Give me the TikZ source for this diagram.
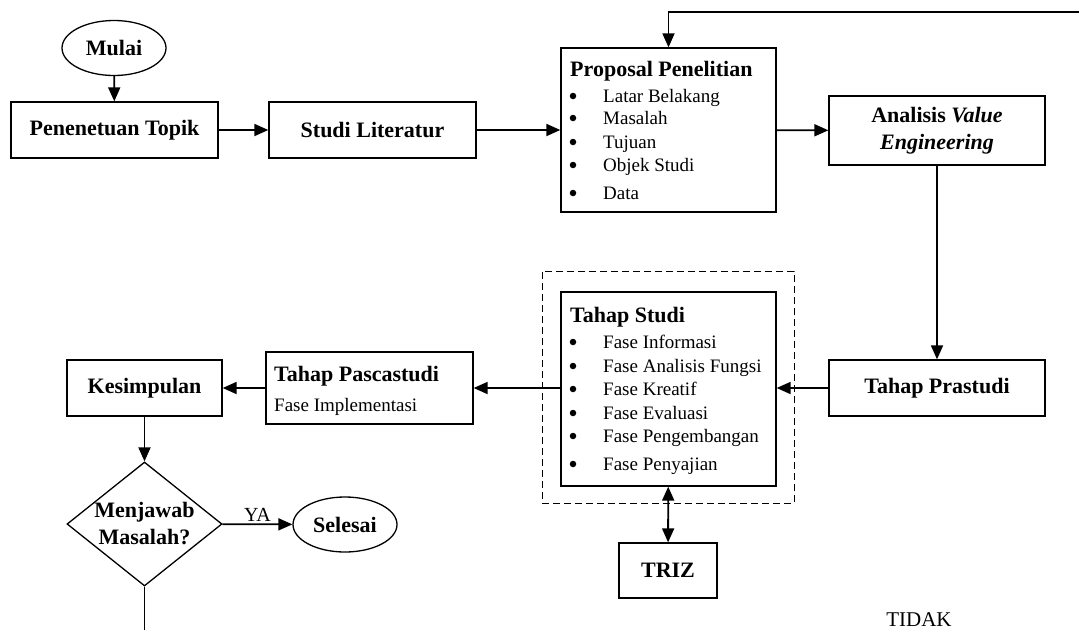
\documentclass[tikz,border=0pt]{standalone}
\usepackage{fontspec}
\setmainfont{Liberation Serif}
\usetikzlibrary{shapes.geometric,arrows.meta}

\begin{document}
\begin{tikzpicture}[x=1pt,y=-1pt,
  box/.style={draw, rectangle, inner sep=0pt, line width=1.3pt},
  bigtxt/.style={font=\fontsize{22}{27}\selectfont\bfseries},
  smalltxt/.style={font=\fontsize{19}{23}\selectfont, inner sep=0pt, anchor=base west},
  bul/.style={circle, fill, inner sep=0pt, minimum size=6.5pt},
  flow/.style={line width=1.8pt, -{Triangle[length=14pt,width=12pt]}},
]
\useasboundingbox (0,0) rectangle (1079,630);
\clip (0,0) rectangle (1079,630);

% ---- top row ----
\node[box, ellipse, minimum width=104pt, minimum height=55pt, bigtxt] (mulai) at (114,48) {Mulai};
\node[box, minimum width=207pt, minimum height=56pt, bigtxt] (topik) at (114.5,130) {Penenetuan Topik};
\node[box, minimum width=207pt, minimum height=56pt, bigtxt] (lit) at (372.5,130) {Studi Literatur};

\node[box, minimum width=215pt, minimum height=164pt] (prop) at (668.5,130) {};
\node[bigtxt, inner sep=0pt, anchor=base west] (propT) at (570,76) {Proposal Penelitian};
\foreach \t [count=\i] / \yy in {Latar Belakang/102, Masalah/124, Tujuan/148, Objek Studi/171, Data/199} {
  \node[bul] (propB\i) at (573,\yy-6) {};
  \node[smalltxt] (propI\i) at (603,\yy) {\t};
}

\node[box, minimum width=216pt, minimum height=69pt, bigtxt, align=center] (ve) at (937,130.5)
  {Analisis \textit{Value}\\\textit{Engineering}};

% ---- middle row ----
\node[box, minimum width=216pt, minimum height=56pt, bigtxt] (pra) at (937,388) {Tahap Prastudi};

\node[draw, dash pattern=on 7pt off 4pt, line width=1pt, inner sep=0pt,
      minimum width=252pt, minimum height=232pt] (grp) at (668,387) {};
\node[box, minimum width=215pt, minimum height=194pt] (studi) at (668.5,389) {};
\node[bigtxt, inner sep=0pt, anchor=base west] (studiT) at (570,322) {Tahap Studi};
\foreach \t [count=\i] / \yy in {Fase Informasi/348, Fase Analisis Fungsi/372, Fase Kreatif/395,
    Fase Evaluasi/419, Fase Pengembangan/442, Fase Penyajian/470} {
  \node[bul] (studiB\i) at (573,\yy-6) {};
  \node[smalltxt] (studiI\i) at (603,\yy) {\t};
}

\node[box, minimum width=98pt, minimum height=55pt, bigtxt] (triz) at (668,570.5) {TRIZ};

\node[box, minimum width=207pt, minimum height=72pt] (pasca) at (369.5,388) {};
\node[bigtxt, inner sep=0pt, anchor=base west] (pascaT) at (274,381) {Tahap Pascastudi};
\node[smalltxt] (pascaI) at (274,411) {Fase Implementasi};

\node[box, minimum width=155pt, minimum height=56pt, bigtxt] (kes) at (144.5,388) {Kesimpulan};

% ---- decision ----
\node[box, diamond, minimum width=155pt, minimum height=124pt,
      label={[bigtxt, align=center]center:{Menjawab\\Masalah?}}] (dec) at (144.5,524) {};
\node[box, ellipse, minimum width=104pt, minimum height=55pt, bigtxt] (selesai) at (345,524.5) {Selesai};

\node[font=\fontsize{21}{25}\selectfont, inner sep=0pt, anchor=base] (tidak) at (919,626) {TIDAK};

% ---- connectors ----
\coordinate (loopR) at (1079,12);
\coordinate (downEnd) at (144.5,630);

\draw[flow] (mulai) -- (topik);
\draw[flow] (topik) -- (lit);
\draw[flow] (lit) -- (prop);
\draw[flow] (prop) -- (ve);
\draw[flow] (ve) -- (pra);
\draw[flow] (pra.west) -- (pra.west -| studi.east);
\draw[flow] (pasca.east -| studi.west) -- (pasca.east);
\draw[flow] (pasca) -- (kes);
\draw[flow] (kes) -- (dec);
\draw[flow] (dec) -- node[above, inner sep=2pt, font=\fontsize{20}{24}\selectfont] (ya) {YA} (selesai);
\draw[line width=1.8pt, {Triangle[length=14pt,width=12pt]}-{Triangle[length=14pt,width=12pt]}] (studi) -- (triz);
\draw[flow] (loopR) -| (prop.north);
\draw[line width=1.8pt] (dec) -- (downEnd);
\end{tikzpicture}
\end{document}
